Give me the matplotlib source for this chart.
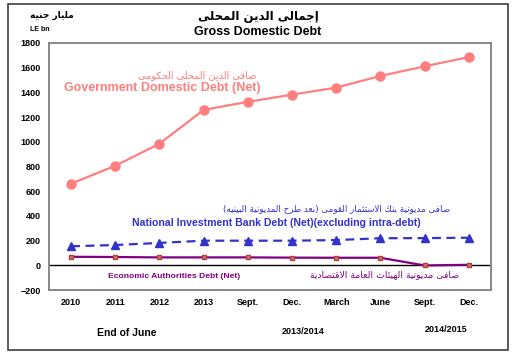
import numpy as np
import matplotlib
matplotlib.use("Agg")
import matplotlib.pyplot as plt
from matplotlib.patches import Rectangle

plt.rcParams['font.family'] = ['Liberation Sans', 'DejaVu Sans']

# data (LE bn)
periods = ["2010", "2011", "2012", "2013", "Sept.", "Dec.", "March", "June", "Sept.", "Dec."]
gov_debt = [661, 806, 984, 1258, 1323, 1381, 1438, 1532, 1610, 1685]
nib_debt = [155, 165, 182, 200, 200, 200, 205, 220, 221, 224]
eco_debt = [70, 68, 65, 65, 65, 63, 62, 62, 0, 5]

# --- tiny arabic shaper (matplotlib has no RTL / joining) ---
FORMS = {
    'ا': (0xFE8D, 0xFE8E, None, None), 'إ': (0xFE87, 0xFE88, None, None),
    'ئ': (0xFE89, 0xFE8A, 0xFE8B, 0xFE8C),
    'ب': (0xFE8F, 0xFE90, 0xFE91, 0xFE92), 'ة': (0xFE93, 0xFE94, None, None),
    'ت': (0xFE95, 0xFE96, 0xFE97, 0xFE98), 'ث': (0xFE99, 0xFE9A, 0xFE9B, 0xFE9C),
    'ج': (0xFE9D, 0xFE9E, 0xFE9F, 0xFEA0), 'ح': (0xFEA1, 0xFEA2, 0xFEA3, 0xFEA4),
    'د': (0xFEA9, 0xFEAA, None, None), 'ر': (0xFEAD, 0xFEAE, None, None),
    'س': (0xFEB1, 0xFEB2, 0xFEB3, 0xFEB4), 'ص': (0xFEB9, 0xFEBA, 0xFEBB, 0xFEBC),
    'ط': (0xFEC1, 0xFEC2, 0xFEC3, 0xFEC4), 'ع': (0xFEC9, 0xFECA, 0xFECB, 0xFECC),
    'ف': (0xFED1, 0xFED2, 0xFED3, 0xFED4), 'ق': (0xFED5, 0xFED6, 0xFED7, 0xFED8),
    'ك': (0xFED9, 0xFEDA, 0xFEDB, 0xFEDC), 'ل': (0xFEDD, 0xFEDE, 0xFEDF, 0xFEE0),
    'م': (0xFEE1, 0xFEE2, 0xFEE3, 0xFEE4), 'ن': (0xFEE5, 0xFEE6, 0xFEE7, 0xFEE8),
    'ه': (0xFEE9, 0xFEEA, 0xFEEB, 0xFEEC), 'و': (0xFEED, 0xFEEE, None, None),
    'ى': (0xFEEF, 0xFEF0, None, None), 'ي': (0xFEF1, 0xFEF2, 0xFEF3, 0xFEF4),
    'لا': (0xFEFB, 0xFEFC, None, None), 'لإ': (0xFEF9, 0xFEFA, None, None),
}


def shape(text):
    chars = []
    i = 0
    while i < len(text):
        if text[i] == 'ل' and i + 1 < len(text) and text[i + 1] in 'اإ':
            chars.append(text[i:i + 2])
            i += 2
        else:
            chars.append(text[i])
            i += 1
    out = []
    for k, c in enumerate(chars):
        if c not in FORMS:
            out.append(c)
            continue
        prev = chars[k - 1] if k > 0 else None
        nxt = chars[k + 1] if k + 1 < len(chars) else None
        join_prev = prev in FORMS and FORMS[prev][2] is not None
        join_next = FORMS[c][2] is not None and nxt in FORMS
        iso, fin, ini, med = FORMS[c]
        if join_prev and join_next:
            g = med
        elif join_prev:
            g = fin
        elif join_next:
            g = ini
        else:
            g = iso
        out.append(chr(g))
    s = ''.join(out)[::-1]
    return s.translate(str.maketrans('()', ')('))


fig = plt.figure(figsize=(5.18, 3.6), dpi=100)
ax = fig.add_axes([0.0946, 0.194, 0.853, 0.687])

x = np.arange(len(periods))
ax.plot(x, gov_debt, color='#FF7F7F', lw=1.6, marker='o', ms=6.5, zorder=3)
ax.plot(x, nib_debt, color='#3333CC', lw=1.6, ls=(0, (4, 2.5)), marker='^', ms=6, zorder=3)
ax.plot(x, eco_debt, color='#800080', lw=1.6, marker='s', ms=3.5,
        mfc='#D9706A', mec='#B04040', zorder=3)
ax.axhline(0, color='black', lw=1, zorder=2)

ax.set_xlim(-0.5, len(periods) - 0.5)
ax.set_ylim(-200, 1800)
ax.set_yticks(range(-200, 1801, 200))
ax.set_xticks(x)
ax.set_xticklabels(periods)
ax.tick_params(axis='both', length=0, labelsize=6.5, pad=6)
for lab in ax.get_xticklabels() + ax.get_yticklabels():
    lab.set_fontweight('bold')
for sp in ax.spines.values():
    sp.set_color('#808080')
    sp.set_linewidth(1.3)

# series labels
ax.text(2.85, 1540, shape('صافى الدين المحلى الحكومى'), color='#FF7F7F',
        fontsize=7, ha='center', va='center', family=['DejaVu Sans'])
ax.text(2.06, 1435, 'Government Domestic Debt (Net)', color='#FF7F7F',
        fontsize=9, fontweight='bold', ha='center', va='center')
ax.text(6.0, 460, shape('صافى مديونية بنك الاستثمار القومى (بعد طرح المديونية البينيه)'),
        color='#3333CC', fontsize=6.3, ha='center', va='center', family=['DejaVu Sans'])
ax.text(4.64, 347, 'National Investment Bank Debt (Net)(excluding intra-debt)',
        color='#3333CC', fontsize=7.6, fontweight='bold', ha='center', va='center')
ax.text(2.33, -89, 'Economic Authorities Debt (Net)', color='#800080',
        fontsize=6.1, fontweight='bold', ha='center', va='center')
ax.text(7.1, -75, shape('صافى مديونية الهيئات العامة الاقتصادية'), color='#800080',
        fontsize=6.7, ha='center', va='center', family=['DejaVu Sans'])

# titles and period notes
fig.text(0.498, 0.955, shape('إجمالى الدين المحلى'), fontsize=8.5, fontweight='bold',
         ha='center', va='center', family=['DejaVu Sans'])
fig.text(0.498, 0.911, 'Gross Domestic Debt', fontsize=9, fontweight='bold',
         ha='center', va='center')
fig.text(0.1, 0.958, shape('مليار جنيه'), fontsize=6.5, fontweight='bold',
         ha='center', va='center', family=['DejaVu Sans'])
fig.text(0.077, 0.918, 'LE bn', fontsize=5, fontweight='bold', ha='center', va='center')
fig.text(0.245, 0.075, 'End of June', fontsize=7.5, fontweight='bold', ha='center', va='center')
fig.text(0.585, 0.078, '2013/2014', fontsize=6.5, fontweight='bold', ha='center', va='center')
fig.text(0.862, 0.085, '2014/2015', fontsize=6.5, fontweight='bold', ha='center', va='center')

fig.patches.append(Rectangle((8 / 518, 1 - 350 / 360), 500 / 518, 346 / 360,
                             transform=fig.transFigure, fill=False,
                             edgecolor='#404040', lw=1.2))

fig.savefig('out.png', dpi=100)
